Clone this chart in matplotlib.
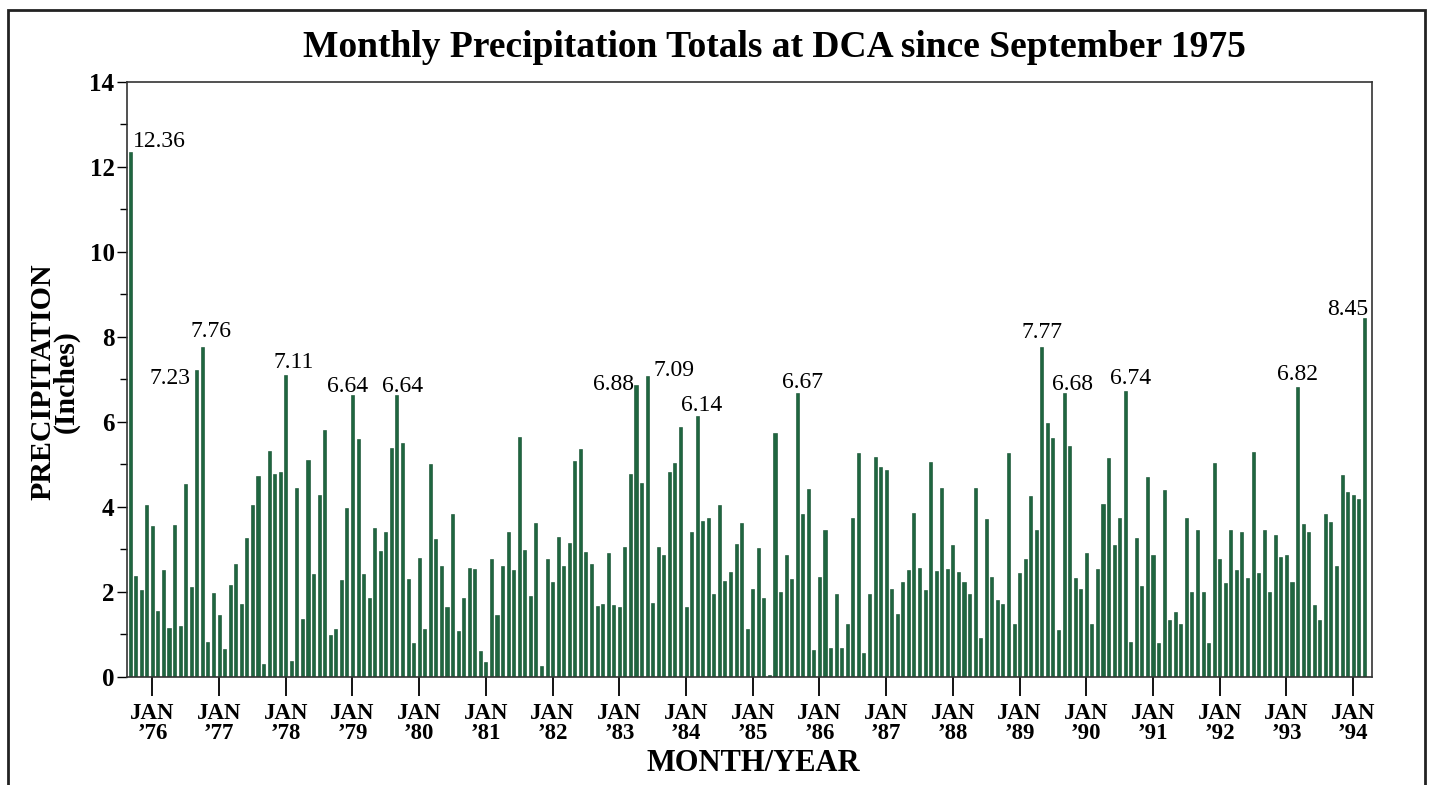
import matplotlib.pyplot as plt
import numpy as np
from matplotlib.patches import Rectangle

# ------------------------------------------------------------------------------
# Monthly precipitation at DCA, Sep 1975 - Mar 1994 (inches)
start_year = 1975
start_month = 9

p1975 = [12.36, 2.38, 2.05, 4.04]
p1976 = [3.55, 1.55, 2.51, 1.16, 3.57, 1.20, 4.53, 2.12, 7.23, 7.76, 0.82, 1.98]
p1977 = [1.47, 0.65, 2.16, 2.65, 1.71, 3.28, 4.04, 4.73, 0.30, 5.32, 4.78, 4.83]
p1978 = [7.11, 0.38, 4.45, 1.36, 5.10, 2.42, 4.27, 5.81, 0.99, 1.12, 2.28, 3.98]
p1979 = [6.64, 5.59, 2.42, 1.87, 3.51, 2.96, 3.40, 5.38, 6.64, 5.51, 2.30, 0.81]
p1980 = [2.81, 1.12, 5.00, 3.24, 2.61, 1.65, 3.84, 1.08, 1.87, 2.56, 2.53, 0.61]
p1981 = [0.35, 2.78, 1.45, 2.60, 3.40, 2.52, 5.65, 2.99, 1.91, 3.62, 0.26, 2.77]
p1982 = [2.24, 3.30, 2.60, 3.16, 5.07, 5.37, 2.95, 2.65, 1.67, 1.71, 2.92, 1.69]
p1983 = [1.65, 3.06, 4.78, 6.88, 4.57, 7.09, 1.73, 3.07, 2.86, 4.83, 5.04, 5.87]
p1984 = [1.65, 3.40, 6.14, 3.67, 3.75, 1.96, 4.04, 2.26, 2.48, 3.14, 3.62, 1.14]
p1985 = [2.06, 3.03, 1.85, 0.05, 5.73, 2.00, 2.87, 2.31, 6.67, 3.83, 4.43, 0.64]
p1986 = [2.35, 3.46, 0.69, 1.95, 0.69, 1.24, 3.75, 5.28, 0.56, 1.96, 5.18, 4.94]
p1987 = [4.86, 2.06, 1.49, 2.24, 2.51, 3.87, 2.56, 2.04, 5.06, 2.49, 4.45, 2.53]
p1988 = [3.11, 2.48, 2.24, 1.96, 4.45, 0.91, 3.71, 2.35, 1.80, 1.71, 5.28, 1.25]
p1989 = [2.45, 2.77, 4.26, 3.46, 7.77, 5.97, 5.62, 1.10, 6.68, 5.44, 2.34, 2.06]
p1990 = [2.91, 1.25, 2.53, 4.06, 5.16, 3.11, 3.75, 6.74, 0.82, 3.26, 2.14, 4.71]
p1991 = [2.87, 0.79, 4.39, 1.34, 1.53, 1.24, 3.73, 2.00, 3.47, 2.00, 0.81, 5.04]
p1992 = [2.77, 2.20, 3.45, 2.52, 3.40, 2.32, 5.30, 2.45, 3.46, 2.00, 3.34, 2.83]
p1993 = [2.87, 2.24, 6.82, 3.59, 3.40, 1.69, 1.33, 3.84, 3.65, 2.60, 4.75, 4.36]
p1994 = [4.27, 4.18, 8.45]

precip = np.array(p1975 + p1976 + p1977 + p1978 + p1979 + p1980 + p1981 + p1982
                  + p1983 + p1984 + p1985 + p1986 + p1987 + p1988 + p1989
                  + p1990 + p1991 + p1992 + p1993 + p1994)

# labelled peaks
peaks = [12.36, 7.23, 7.76, 7.11, 6.64, 6.64, 6.88, 7.09, 6.14, 6.67,
         7.77, 6.68, 6.74, 6.82, 8.45]
# ha, va, x offset (pts), y offset (pts)
peak_style = [('left', 'bottom', 2, 0), ('right', 'top', -4.5, 1), ('center', 'bottom', 6.5, 3.5),
              ('center', 'bottom', 6, 1.5), ('center', 'bottom', -3.5, -1.5),
              ('center', 'bottom', 4, -1.5), ('right', 'center', -1.5, 0),
              ('left', 'bottom', 4.5, -4), ('center', 'bottom', 3.5, 0),
              ('center', 'bottom', 4, 0), ('center', 'bottom', 0, 3),
              ('center', 'bottom', 6, -1.5), ('center', 'bottom', 4, 1),
              ('center', 'bottom', 0, 1.5), ('right', 'bottom', 3, -1.5)]

years = list(range(1976, 1995))
tick_labels = ['JAN\n\u2019%02d' % (y % 100) for y in years]

# ------------------------------------------------------------------------------
serif = ['Liberation Serif', 'DejaVu Serif']
bar_color = '#1f6640'

fig = plt.figure(figsize=(14.34, 7.85), dpi=100)
ax = fig.add_axes([0.0886, 0.1376, 0.8682, 0.758])

idx = np.arange(len(precip))
ax.bar(idx, precip, width=0.55, color=bar_color, edgecolor='#0e4a2a', linewidth=0.4)

ax.set_xlim(-0.55, len(precip) + 0.4)
ax.set_ylim(0, 14)

jan_idx = [12 * (y - start_year) - (start_month - 1) for y in years]
ax.set_xticks(jan_idx)
ax.set_xticklabels(tick_labels, fontfamily=serif, fontweight='bold', fontsize=16.5,
                   linespacing=0.9)
ax.tick_params(axis='x', length=14, width=1.3, pad=5, direction='out')

ax.set_yticks(np.arange(0, 15, 2))
ax.set_yticks(np.arange(1, 14, 2), minor=True)
ax.set_yticklabels([str(v) for v in range(0, 15, 2)], fontfamily=serif,
                   fontweight='bold', fontsize=18)
ax.tick_params(axis='y', which='major', length=7, width=1, pad=2)
ax.tick_params(axis='y', which='minor', length=5, width=1)

for s in ax.spines.values():
    s.set_linewidth(1.2)
    s.set_color('#333333')

# peak labels
k = 0
for i, v in enumerate(precip):
    if k < len(peaks) and abs(v - peaks[k]) < 1e-9:
        ha, va, dx, dy = peak_style[k]
        ax.annotate('%.2f' % v, xy=(i, v), xytext=(dx, dy), textcoords='offset points',
                    ha=ha, va=va, fontfamily=serif, fontsize=17)
        k += 1

fig.text(0.540, 0.940, 'Monthly Precipitation Totals at DCA since September 1975',
         ha='center', va='center', fontfamily=serif, fontweight='bold', fontsize=27)
fig.text(0.5255, 0.028, 'MONTH/YEAR', ha='center', va='center', fontfamily=serif,
         fontweight='bold', fontsize=22)
fig.text(55 / 1434, 1 - 382 / 785, 'PRECIPITATION\n(Inches)', ha='center', va='center',
         rotation=90, fontfamily=serif, fontweight='bold', fontsize=21.5, linespacing=0.8)

# outer frame
fig.patches.append(Rectangle((8 / 1434, -0.02), 1417 / 1434, 1 - 10 / 785 + 0.02,
                             transform=fig.transFigure, fill=False,
                             edgecolor='#222222', linewidth=2))

fig.savefig('out.png', dpi=100)
